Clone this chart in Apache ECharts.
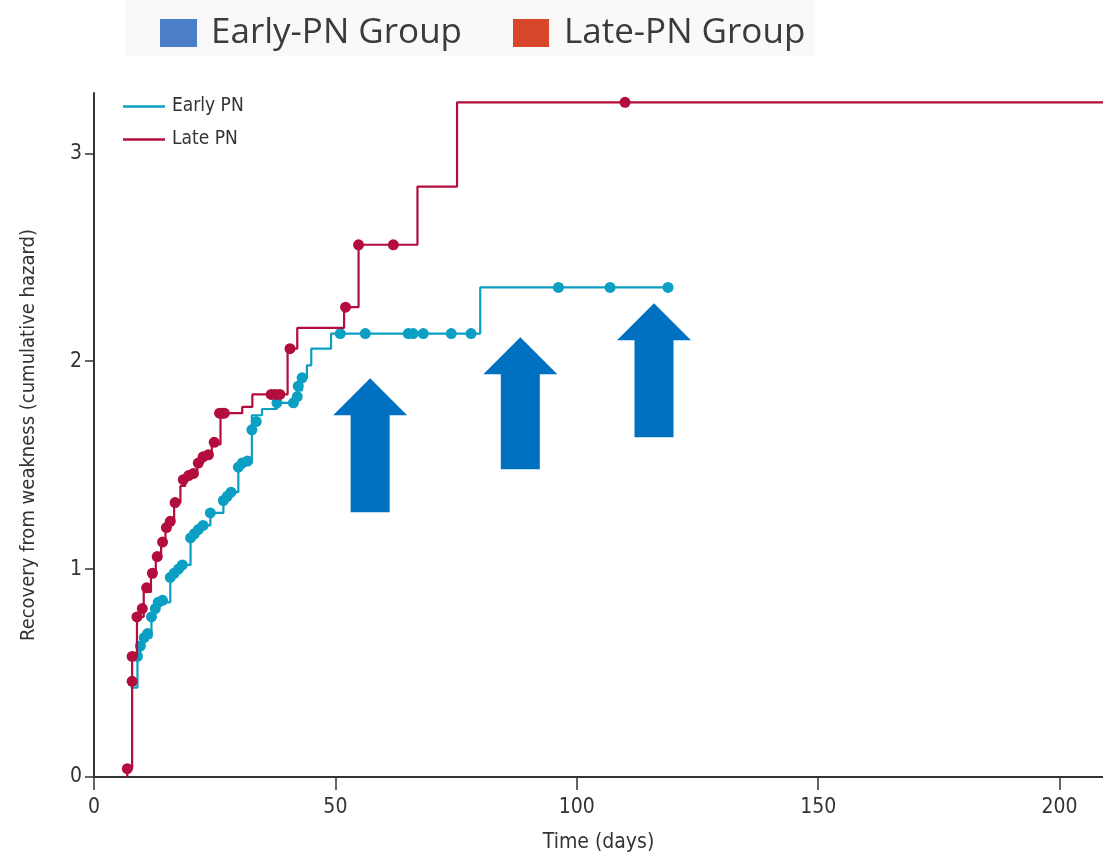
<!DOCTYPE html>
<html>
<head>
<meta charset="utf-8">
<script src="https://cdn.jsdelivr.net/npm/echarts@6/dist/echarts.min.js"></script>
<style>
html,body{margin:0;padding:0;background:#fff;}
#chart{width:1103px;height:858px;}
</style>
</head>
<body>
<div id="chart"></div>
<script>
// ---- data ----
const xTicks = [0, 50, 100, 150, 200];
const yTicks = [0, 1, 2, 3];
const seriesNames = ['Early PN', 'Late PN'];
const groupLabels = ['Early-PN Group', 'Late-PN Group'];

// step points [day, cumulative hazard]
const earlySteps = [[7.6,0.43],[9.0,0.58],[9.6,0.63],[10.4,0.67],[11.9,0.77],[12.7,0.81],[13.3,0.84],[15.8,0.96],[16.6,0.98],[17.5,1.00],[18.3,1.02],[20.0,1.15],[20.8,1.17],[21.6,1.19],[22.6,1.21],[24.1,1.27],[26.8,1.33],[27.6,1.35],[28.4,1.37],[29.9,1.49],[30.7,1.51],[32.7,1.74],[34.8,1.77],[37.9,1.80],[42.1,1.86],[43.1,1.92],[44.1,1.98],[45.0,2.06],[49.1,2.133],[80.0,2.355],[119,2.355]];
const lateSteps = [[6.9,0],[6.9,0.04],[7.9,0.58],[8.9,0.77],[10.3,0.89],[11.8,0.97],[12.8,1.05],[13.9,1.13],[14.8,1.19],[15.6,1.23],[16.6,1.32],[17.9,1.40],[18.9,1.44],[20.4,1.47],[21.4,1.51],[22.6,1.54],[24.4,1.60],[26.2,1.75],[30.7,1.78],[32.8,1.84],[40.1,2.06],[42.1,2.16],[51.8,2.26],[54.8,2.56],[67.0,2.84],[75.2,3.245],[209,3.245]];

// marker dots [day, cumulative hazard]
const earlyDots = [[9.0,0.58],[9.6,0.63],[10.4,0.67],[11.1,0.69],[11.9,0.77],[12.7,0.81],[13.3,0.84],[14.2,0.85],[15.8,0.96],[16.6,0.98],[17.5,1.00],[18.3,1.02],[20.0,1.15],[20.8,1.17],[21.6,1.19],[22.6,1.21],[24.1,1.27],[26.8,1.33],[27.6,1.35],[28.4,1.37],[29.9,1.49],[30.7,1.51],[31.8,1.52],[32.7,1.67],[33.6,1.71],[37.9,1.80],[41.3,1.80],[42.1,1.83],[42.3,1.88],[43.1,1.92],[51.0,2.133],[56.2,2.133],[65.1,2.133],[66.1,2.133],[68.2,2.133],[74.0,2.133],[78.1,2.133],[96.2,2.355],[106.9,2.355],[118.9,2.355]];
const lateDots = [[6.9,0.04],[7.9,0.46],[7.9,0.58],[8.9,0.77],[10.0,0.81],[10.9,0.91],[12.1,0.98],[13.1,1.06],[14.2,1.13],[15.0,1.20],[15.8,1.23],[16.8,1.32],[18.5,1.43],[19.6,1.45],[20.6,1.46],[21.6,1.51],[22.6,1.54],[23.7,1.55],[24.9,1.61],[26.0,1.75],[26.6,1.75],[27.0,1.75],[36.7,1.84],[37.6,1.84],[38.5,1.84],[40.6,2.06],[52.1,2.26],[54.8,2.56],[62.0,2.56],[110.0,3.245]];

// annotation arrow tips [day, value]
const arrowTips = [[57.2,1.918],[88.3,2.115],[116.0,2.279]];
const arrowShaftLen = [97, 95, 97];

// ---- chart ----
const EARLY = '#0a9fc3';
const LATE = '#b30d3d';
const FONT = "'Liberation Sans Narrow','DejaVu Sans Condensed',sans-serif";
const chart = echarts.init(document.getElementById('chart'));

const option = {
  animation: false,
  backgroundColor: '#ffffff',
  grid: {left: 94, right: 0, top: 93, bottom: 81},
  legend: {
    data: [
      {name: seriesNames[0], icon: 'rect', itemStyle: {color: EARLY}},
      {name: seriesNames[1], icon: 'rect', itemStyle: {color: LATE}}
    ],
    orient: 'vertical',
    left: 118, top: 92,
    itemWidth: 42, itemHeight: 2.5, itemGap: 14,
    textStyle: {fontFamily: FONT, fontSize: 19, color: '#333', padding: [0, 0, 0, 2]}
  },
  xAxis: {
    type: 'value', min: 0, max: 209,
    name: 'Time (days)', nameLocation: 'middle', nameGap: 55,
    nameTextStyle: {fontFamily: FONT, fontSize: 21, color: '#333'},
    axisLine: {lineStyle: {color: '#333', width: 2}},
    axisTick: {show: true, length: 13, customValues: xTicks, lineStyle: {color: '#333', width: 1.5}},
    axisLabel: {customValues: xTicks, fontFamily: FONT, fontSize: 21, color: '#333', margin: 20},
    splitLine: {show: false}
  },
  yAxis: {
    type: 'value', min: 0, max: 3.29,
    name: 'Recovery from weakness (cumulative hazard)', nameLocation: 'middle', nameGap: 55,
    nameTextStyle: {fontFamily: FONT, fontSize: 20, color: '#333'},
    axisLine: {lineStyle: {color: '#333', width: 2}},
    axisTick: {show: true, length: 9, customValues: yTicks, lineStyle: {color: '#333', width: 1.5}},
    axisLabel: {customValues: yTicks, fontFamily: FONT, fontSize: 21, color: '#333', margin: 12},
    splitLine: {show: false}
  },
  series: [
    {name: seriesNames[0], type: 'line', step: 'end', data: earlySteps, symbol: 'none',
     color: EARLY, lineStyle: {color: EARLY, width: 2.2}, z: 2},
    {name: 'earlyDots', type: 'scatter', data: earlyDots, symbolSize: 11,
     itemStyle: {color: EARLY, opacity: 1}, z: 3},
    {name: seriesNames[1], type: 'line', step: 'end', data: lateSteps, symbol: 'none',
     color: LATE, lineStyle: {color: LATE, width: 2.2}, z: 4},
    {name: 'lateDots', type: 'scatter', data: lateDots, symbolSize: 11,
     itemStyle: {color: LATE, opacity: 1}, z: 5}
  ]
};
chart.setOption(option);

// annotation graphics: top group legend + arrows
const graphics = [
  {type: 'rect', shape: {x: 125, y: 0, width: 690, height: 56}, style: {fill: '#f9f9f9'}, z: 0},
  {type: 'rect', shape: {x: 160, y: 19, width: 37, height: 28}, style: {fill: '#4a7fc8'}},
  {type: 'text', x: 211, y: 33, style: {text: groupLabels[0], fontFamily: "'Open Sans',sans-serif", fontSize: 35, fill: '#3b3b3b', verticalAlign: 'middle'}},
  {type: 'rect', shape: {x: 513, y: 19, width: 36, height: 28}, style: {fill: '#d9472b'}},
  {type: 'text', x: 564, y: 33, style: {text: groupLabels[1], fontFamily: "'Open Sans',sans-serif", fontSize: 35, fill: '#3b3b3b', verticalAlign: 'middle'}}
];
arrowTips.forEach(function (t, i) {
  const p = chart.convertToPixel({gridIndex: 0}, t);
  const hw = 37, hh = 37, sw = 19.5, sl = arrowShaftLen[i];
  graphics.push({
    type: 'polygon', z: 100,
    shape: {points: [
      [p[0], p[1]], [p[0] + hw, p[1] + hh], [p[0] + sw, p[1] + hh], [p[0] + sw, p[1] + hh + sl],
      [p[0] - sw, p[1] + hh + sl], [p[0] - sw, p[1] + hh], [p[0] - hw, p[1] + hh]
    ]},
    style: {fill: '#0070c0'}
  });
});
chart.setOption({graphic: graphics});
</script>
</body>
</html>
